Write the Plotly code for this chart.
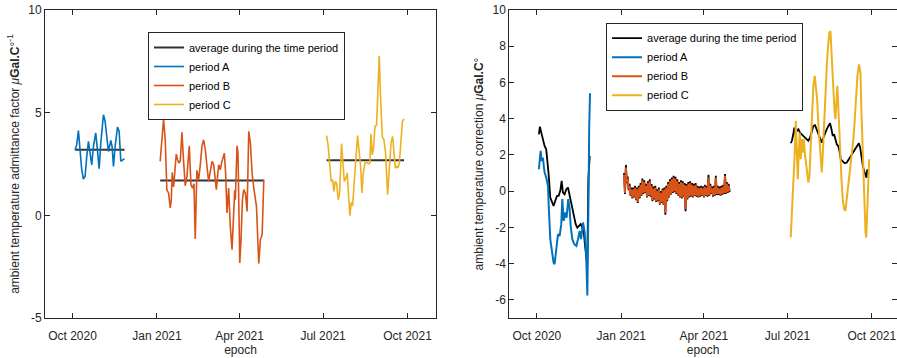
import pandas as pd
import plotly.graph_objects as go

# ---------------- data (days counted from EPOCH) ----------------
EPOCH = "2020-09-01"

# Left panel: ambient temperature admittance factor
A_day = [32.75, 34.6, 36.4, 40.0, 41.8, 43.7, 45.5, 47.3, 49.1, 50.9, 52.8, 55.3, 57.1, 59.0,
         60.8, 63.7, 65.5, 67.3, 69.1, 71.7, 73.1, 74.6, 76.4, 79.0, 80.8, 82.6, 84.4, 86.6]
A_fac = [3.19, 3.44, 4.13, 2.22, 1.77, 1.90, 2.87, 3.60, 3.03, 2.46, 3.36, 4.01, 3.19, 2.27,
         3.52, 4.90, 4.57, 3.84, 3.11, 3.65, 3.36, 2.38, 3.36, 4.30, 4.09, 2.63, 2.71, 2.76]

B_day = [125.5, 127.4, 129.2, 131.0, 132.8, 134.6, 136.5, 137.6, 138.6, 140.1, 143.0, 144.5,
         145.9, 147.4, 149.2, 151.0, 152.8, 154.7, 157.2, 159.0, 160.8, 162.3, 163.7, 165.5,
         167.4, 169.2, 171.0, 172.8, 174.7, 176.5, 178.3, 180.1, 182.0, 183.8, 185.6, 186.7,
         189.2, 191.0, 192.8, 195.4, 196.8, 198.3, 200.1, 201.9, 203.8, 205.6, 206.7, 207.4,
         209.2, 210.3, 212.2, 213.6, 215.1, 216.5, 218.3, 220.2, 222.0, 223.8, 225.6, 227.5,
         230.4, 232.9, 234.7, 236.6, 238.4]
B_fac = [2.63, 3.68, 4.69, 3.68, 1.22, 1.09, 0.36, 0.76, 2.09, 1.38, 2.98, 2.71,
         2.55, 2.66, 4.04, 2.63, 1.44, 1.90, 3.39, 1.49, 1.33, 1.54, -1.15, 2.19,
         1.74, 2.46, 3.36, 3.68, 3.19, 2.38, 1.65, 2.14, 2.63, 2.46, 1.57, 1.25,
         2.46, 2.22, 2.63, 3.03, 2.06, 0.11, 1.33, -0.54, -1.67, 0.76, 1.22, 0.76,
         3.39, 3.03, -2.32, -1.18, 0.76, 1.25, 1.09, 0.19, 4.09, 3.52, 2.06, 1.33,
         0.44, -2.35, -1.18, -0.94, 1.74]

C_day = [306.8, 308.6, 310.4, 311.9, 313.3, 314.8, 316.2, 317.7, 319.5, 321.0, 323.1, 324.6,
         326.1, 327.9, 329.3, 330.8, 332.2, 333.7, 335.2, 336.6, 338.8, 340.6, 342.1, 343.9,
         345.3, 346.8, 348.6, 350.4, 352.6, 354.0, 355.1, 356.6, 358.0, 359.5, 361.3, 362.8,
         364.2, 365.7, 367.5, 369.3, 371.1, 373.3, 375.2, 377.0, 378.8, 380.3, 381.7, 383.2,
         384.6, 386.1, 387.9, 389.4, 391.2]
C_fac = [3.88, 3.36, 2.38, 1.65, 1.74, 1.17, 1.65, 1.57, 0.76, 1.09, 3.49, 2.71,
         1.65, 1.82, 2.06, 0.92, -0.02, 0.63, 0.47, 1.41, 2.55, 3.89, 3.19, 2.38,
         1.09, 2.06, 2.55, 2.58, 2.51, 2.55, 3.97, 2.95, 3.28, 4.33, 4.41, 6.11,
         7.77, 5.63, 3.84, 3.68, 3.03, 1.01, 2.38, 3.52, 3.84, 2.79, 2.30, 2.38,
         2.30, 2.55, 3.68, 4.57, 4.69]

# mean admittance factor per period: [start day, end day, value]
AVG_A = [32.75, 86.6, 3.19]
AVG_B = [125.5, 238.4, 1.70]
AVG_C = [306.8, 391.2, 2.68]

# Right panel: ambient temperature correction
RA_day = [32.2, 32.9, 34.1, 35.1, 36.6, 37.7, 38.5, 40.2, 42.1, 43.1, 44.6, 46.4, 48.2, 49.3,
          51.2, 53.0, 54.8, 56.6, 57.7, 59.2, 61.0, 62.4, 64.2, 65.7, 66.8, 68.6, 70.8, 73.0,
          74.8, 76.6, 78.1, 80.3, 82.1, 83.5, 85.0, 85.8, 86.5, 87.0, 87.5, 87.9]
RA_cor = [1.21, 1.49, 2.22, 1.67, 1.85, 1.30, 1.03, 0.75, 0.29, -1.00, -2.65, -3.29, -3.94, -4.03,
          -3.02, -2.38, -2.47, -1.82, -0.44, -1.64, -1.18, -1.46, -0.44, -0.99, -1.91, -2.65, -2.93, -3.02,
          -2.65, -2.19, -2.65, -1.73, -2.28, -3.20, -5.76, -3.50, 0.50, 3.50, 4.30, 5.40]
RAavg_day = [32.2, 33.3, 34.8, 36.6, 38.4, 40.2, 41.3, 42.8, 44.6, 46.4, 48.2, 50.0, 51.9, 53.7,
             55.5, 57.0, 58.4, 60.2, 62.1, 63.9, 65.0, 66.8, 68.6, 70.4, 72.3, 74.1, 75.9, 77.7,
             79.5, 81.0, 82.5, 83.9, 84.9, 86.1, 86.8, 87.6]
RAavg_cor = [3.14, 3.56, 3.23, 2.77, 2.50, 2.31, 1.76, 0.94, -0.35, -0.63, -0.81, -0.54, -0.26, -0.26,
             0.02, 0.57, -0.08, -0.17, 0.11, 0.20, -0.08, -0.44, -0.99, -1.36, -1.82, -2.01, -1.92, -1.82,
             -2.01, -2.19, -3.02, -3.75, -4.12, 0.66, 1.21, 1.95]

# period B correction: envelope of the (daily oscillating) signal every 2 days
RB_day = [125, 127, 129, 131, 133, 135, 137, 139, 141, 143, 145, 147, 149, 151, 153, 155, 157, 159,
          161, 163, 165, 167, 169, 171, 173, 175, 177, 179, 181, 183, 185, 187, 189, 191, 193, 195,
          197, 199, 201, 203, 205, 207, 209, 211, 213, 215, 217, 219, 221, 223, 225, 227, 229, 231,
          233, 235, 237, 239]
RB_hi = [0.9, 1.3, 0.7, 0.3, 0.1, 0.1, 0.2, 0.1, 0.2, 0.35,
         0.6, 0.5, 0.3, 0.45, 0.55, 0.3, 0.15, 0.2, 0.0, 0.1,
         -0.1, 0.05, 0.1, 0.2, 0.4, 0.55, 0.65, 0.75, 0.7, 0.55,
         0.4, 0.5, 0.45, 0.35, 0.3, 0.4, 0.45, 0.35, 0.3, 0.35,
         0.2, 0.15, 0.2, 0.15, 0.25, 0.2, 0.75, 0.3, 0.15, 0.2,
         0.75, 0.2, 0.15, 0.2, 0.25, 0.85, 0.4, 0.3]
RB_lo = [-0.1, 0.5, 0.1, -0.2, -0.35, -0.3, -0.45, -0.6, -0.35, -0.2,
         -0.1, -0.05, -0.3, -0.2, -0.25, -0.5, -0.4, -0.55, -0.5, -0.7,
         -0.6, -0.7, -1.2, -0.5, -0.3, -0.15, -0.05, 0.0, -0.1, -0.2,
         -0.3, -0.35, -0.25, -1.0, -0.4, -0.3, -0.25, -0.3, -0.2, -0.25,
         -0.3, -0.25, -0.2, -0.3, -0.2, -0.25, -0.2, -0.1, -0.25, -0.2,
         -0.15, -0.15, -0.2, -0.15, -0.1, -0.1, -0.05, 0.0]
RBavg_hi = [1.0, 1.45, 0.8, 0.4, 0.2, 0.2, 0.3, 0.2, 0.3, 0.45,
            0.7, 0.6, 0.4, 0.55, 0.65, 0.4, 0.25, 0.3, 0.1, 0.2,
            0.0, 0.15, 0.2, 0.3, 0.5, 0.65, 0.75, 0.85, 0.8, 0.65,
            0.5, 0.6, 0.55, 0.45, 0.4, 0.5, 0.55, 0.45, 0.4, 0.45,
            0.3, 0.25, 0.3, 0.25, 0.35, 0.3, 0.9, 0.4, 0.25, 0.3,
            0.85, 0.3, 0.25, 0.3, 0.35, 0.95, 0.5, 0.4]
RBavg_lo = [-0.15, 0.45, 0.05, -0.25, -0.4, -0.35, -0.5, -0.65, -0.4, -0.25,
            -0.15, -0.1, -0.35, -0.25, -0.3, -0.55, -0.45, -0.6, -0.55, -0.75,
            -0.65, -0.75, -1.3, -0.55, -0.35, -0.2, -0.1, -0.05, -0.15, -0.25,
            -0.35, -0.4, -0.3, -1.1, -0.45, -0.35, -0.3, -0.35, -0.25, -0.3,
            -0.35, -0.3, -0.25, -0.35, -0.25, -0.3, -0.25, -0.15, -0.3, -0.25,
            -0.2, -0.2, -0.25, -0.2, -0.15, -0.15, -0.1, -0.05]

RC_day = [306.6, 307.7, 308.8, 309.9, 311.0, 312.1, 313.2, 314.3, 315.3, 316.4, 317.5, 318.6,
          319.7, 320.8, 322.3, 324.1, 325.9, 327.0, 328.4, 329.9, 331.3, 332.8, 334.2, 335.4,
          336.8, 338.3, 339.4, 340.5, 341.6, 343.0, 344.5, 345.9, 347.3, 348.8, 349.9, 351.0,
          352.0, 353.1, 354.2, 355.3, 357.4, 358.9, 360.4, 361.9, 363.3, 364.8, 366.2, 367.7,
          369.1, 370.6, 372.0, 373.5, 374.9, 376.4, 377.9, 379.3, 381.1, 382.6, 383.7, 384.8,
          385.9, 387.0, 388.1, 388.9, 390.0, 391.0, 392.1]
RC_cor = [-2.56, -1.55, -0.44, 0.84, 2.13, 3.88, 2.50, 0.66, 2.13, 3.23, 1.76, 2.87,
          2.13, 2.87, 1.95, 1.21, 0.47, 0.84, 2.50, 4.34, 5.81, 6.36, 5.81, 5.07,
          3.60, 2.50, 1.58, 1.03, 2.13, 3.97, 5.44, 6.91, 8.02, 8.75, 8.84, 7.65,
          6.36, 5.07, 4.52, 3.97, 5.81, 4.15, 2.13, 0.66, -0.44, -0.99, -1.09, -0.44,
          0.29, 1.03, 1.76, 2.13, 2.87, 3.97, 5.26, 6.36, 7.00, 6.54, 4.34, 2.50,
          0.84, -0.81, -2.28, -2.56, -0.81, 0.84, 1.76]
RCavg_day = [306.6, 307.9, 309.4, 310.5, 311.6, 313.2, 315.0, 316.7, 318.6, 320.4, 322.3, 324.0,
             325.8, 327.7, 329.5, 331.3, 333.1, 334.9, 336.8, 338.6, 340.4, 342.2, 344.0, 345.9,
             347.7, 349.5, 351.0, 352.4, 353.9, 355.3, 356.8, 358.3, 359.7, 361.2, 363.3, 365.5,
             367.7, 369.9, 372.0, 374.2, 376.4, 378.6, 380.8, 382.3, 383.7, 385.2, 386.6, 388.1,
             389.2, 390.0]
RCavg_cor = [2.65, 2.78, 3.14, 3.51, 3.14, 3.33, 3.42, 3.23, 3.14, 3.05, 2.96, 2.87,
             2.78, 2.96, 3.33, 3.60, 3.64, 3.42, 3.14, 2.87, 2.68, 2.96, 3.23, 3.42,
             3.60, 3.75, 3.42, 3.05, 3.14, 2.78, 2.59, 2.50, 2.23, 1.76, 1.62, 1.54,
             1.58, 1.76, 1.95, 2.13, 2.31, 2.50, 2.65, 2.41, 1.76, 1.40, 1.12, 0.84,
             0.75, 1.20]

# axes
X_TICKS = ["2020-10-01", "2021-01-01", "2021-04-01", "2021-07-01", "2021-10-01"]
X_TICKTEXT = ["Oct 2020", "Jan 2021", "Apr 2021", "Jul 2021", "Oct 2021"]
Y1_TICKS = [-5, 0, 5, 10]
Y2_TICKS = [-6, -4, -2, 0, 2, 4, 6, 8, 10]

NAMES = ["average during the time period", "period A", "period B", "period C"]
COLORS = ["#000000", "#0072BD", "#D95319", "#EDB120"]

# ---------------- helpers ----------------
E0 = pd.Timestamp(EPOCH)


def dates(days):
    return [E0 + pd.Timedelta(days=float(d)) for d in days]


def zigzag(days, hi, lo):
    xs, ys = [], []
    for d, h, l in zip(days, hi, lo):
        xs += [d, d + 1]
        ys += [h, l]
    return xs, ys


fig = go.Figure()

# ----- left panel -----
avg_x, avg_y = [], []
for s, e, v in (AVG_A, AVG_B, AVG_C):
    avg_x += [E0 + pd.Timedelta(days=s), E0 + pd.Timedelta(days=e), None]
    avg_y += [v, v, None]

fig.add_trace(go.Scatter(x=avg_x, y=avg_y, mode="lines", name=NAMES[0],
                         line=dict(color="#333333", width=2), xaxis="x", yaxis="y",
                         legend="legend", connectgaps=False))
for nm, col, dd, vv in ((NAMES[1], COLORS[1], A_day, A_fac),
                        (NAMES[2], COLORS[2], B_day, B_fac),
                        (NAMES[3], COLORS[3], C_day, C_fac)):
    fig.add_trace(go.Scatter(x=dates(dd), y=vv, mode="lines", name=nm,
                             line=dict(color=col, width=1.6), xaxis="x", yaxis="y",
                             legend="legend"))

# ----- right panel -----
bx, by = zigzag(RB_day, RBavg_hi, RBavg_lo)
ravg_x = dates(RAavg_day) + [None] + dates(bx) + [None] + dates(RCavg_day)
ravg_y = RAavg_cor + [None] + by + [None] + RCavg_cor
fig.add_trace(go.Scatter(x=ravg_x, y=ravg_y, mode="lines", name=NAMES[0],
                         line=dict(color="#000000", width=1.8), xaxis="x2", yaxis="y2",
                         legend="legend2", connectgaps=False))
rbx, rby = zigzag(RB_day, RB_hi, RB_lo)
for nm, col, dd, vv in ((NAMES[1], COLORS[1], RA_day, RA_cor),
                        (NAMES[2], COLORS[2], rbx, rby),
                        (NAMES[3], COLORS[3], RC_day, RC_cor)):
    fig.add_trace(go.Scatter(x=dates(dd), y=vv, mode="lines", name=nm,
                             line=dict(color=col, width=2.0), xaxis="x2", yaxis="y2",
                             legend="legend2"))

AX = dict(showline=True, linecolor="#262626", linewidth=1, mirror="ticks",
          ticks="inside", ticklen=5, tickcolor="#262626", showgrid=False, zeroline=False,
          tickfont=dict(size=12, color="#262626"))
XAX = dict(AX, ticklabelstandoff=7)
FONT = "Liberation Sans, Arial, sans-serif"

fig.update_layout(
    width=897, height=358,
    margin=dict(l=45, r=0, t=10, b=40),
    paper_bgcolor="white", plot_bgcolor="white",
    font=dict(family=FONT, size=12, color="#262626"),
    xaxis=dict(domain=[0, 0.4589], range=[E0, pd.Timestamp("2021-11-01")], anchor="y",
               tickvals=X_TICKS, ticktext=X_TICKTEXT,
               title=dict(text="epoch", font=dict(size=12), standoff=2), **XAX),
    yaxis=dict(domain=[0, 1], range=[-5, 10], anchor="x",
               tickvals=Y1_TICKS, ticktext=[str(v) for v in Y1_TICKS],
               title=dict(text="ambient temperature admittance factor <i>μ</i><b>Gal.C</b>°<sup>-1</sup>",
                          font=dict(size=12), standoff=6), **AX),
    xaxis2=dict(domain=[0.545, 1], range=[E0, pd.Timestamp("2021-10-28 10:00")], anchor="y2",
                tickvals=X_TICKS, ticktext=X_TICKTEXT,
                title=dict(text="epoch", font=dict(size=12), standoff=2), **XAX),
    yaxis2=dict(domain=[0, 1], range=[-7, 10], anchor="x2",
                tickvals=Y2_TICKS, ticktext=[str(v) for v in Y2_TICKS],
                title=dict(text="ambient temperature correction <i>μ</i><b>Gal.C</b>°",
                           font=dict(size=12), standoff=6), **AX),
    legend=dict(x=0.1209, y=0.9286, xanchor="left", yanchor="top", bgcolor="white",
                bordercolor="#262626", borderwidth=1, font=dict(size=11, color="#000000"),
                tracegroupgap=0),
    legend2=dict(x=0.6585, y=0.9588, xanchor="left", yanchor="top", bgcolor="white",
                 bordercolor="#262626", borderwidth=1, font=dict(size=11, color="#000000"),
                 tracegroupgap=0),
)

fig.write_html("out.html")
